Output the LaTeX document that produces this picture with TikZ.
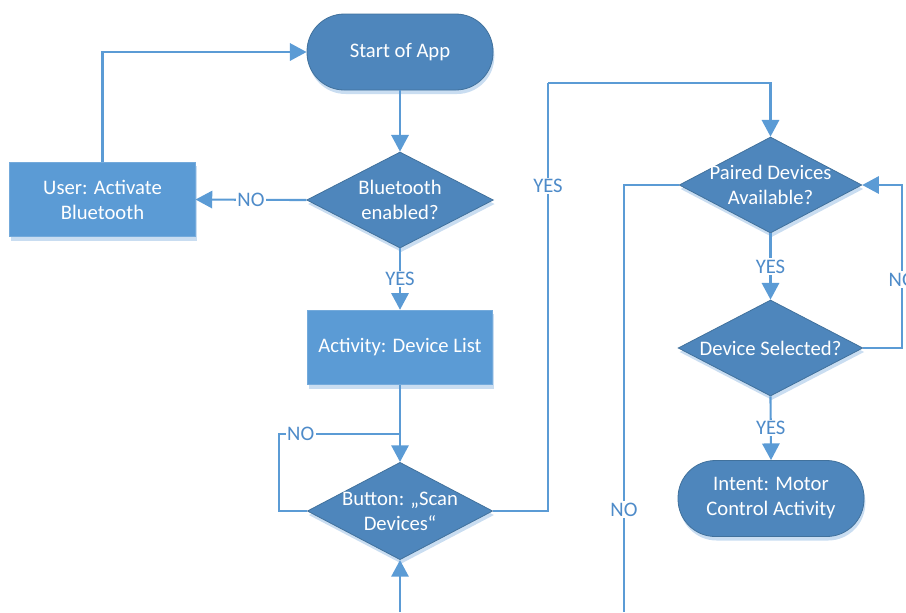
\documentclass[tikz,border=0pt]{standalone}
\usepackage{fontspec}
\setmainfont{Carlito}
\usetikzlibrary{shapes.geometric,shadows,arrows.meta}
\definecolor{lineblue}{HTML}{5B9BD5}
\definecolor{shapefill}{HTML}{4E86BC}
\definecolor{shapeedge}{HTML}{41719C}
\definecolor{boxfill}{HTML}{5B9BD5}
\definecolor{shadowblue}{HTML}{C9DDF1}
\definecolor{labelblue}{HTML}{4E8BC9}
\tikzset{
  shapetext/.style={text=white, font=\fontsize{15.5}{18.75}\selectfont, align=center, inner sep=0pt},
  base/.style={shapetext,
    drop shadow={fill=shadowblue, shadow xshift=1pt, shadow yshift=-3pt, opacity=1}},
  terminal/.style={base, rectangle, rounded corners=28pt, fill=shapefill, draw=shapeedge, line width=0.6pt,
    minimum width=139.5pt, minimum height=57pt},
  % the diamond keeps its size; its text is set on top and may reach past the edges
  decision/.style={base, diamond, aspect=2, fill=shapefill, draw=shapeedge, line width=0.6pt,
    minimum width=140pt, minimum height=72pt, label={[shapetext]center:#1}},
  process/.style={base, rectangle, fill=boxfill, draw=boxfill!85!white, line width=0.6pt,
    minimum width=139pt, minimum height=56pt},
  line/.style={draw=lineblue, line width=1.6pt},
  flow/.style={line, -{Triangle[length=12.5pt,width=13pt]}},
  lbl/.style={fill=white, text=labelblue, font=\fontsize{15.5}{18}\selectfont, inner sep=1pt}
}
\begin{document}
\begin{tikzpicture}[x=0.75pt,y=-0.75pt]
\useasboundingbox (0,0) rectangle (906,612);

% left column
\node[terminal] (start) at (400,52) {Start of App};
\node[decision={Bluetooth\\enabled?}] (bt) at (400,200) {};
\node[process] (user) at (102.5,199.5) {User: Activate\\Bluetooth};
\node[process] (list) at (400,347.5) {Activity: Device List};
\node[decision={Button: „Scan\\Devices“}, minimum width=139pt, minimum height=73pt] (scan) at (400,511) {};

% right column
\node[decision={Paired Devices\\Available?}, minimum width=137pt] (paired) at (770.5,185) {};
\node[decision={Device Selected?}, minimum width=138.5pt] (sel) at (770.5,348) {};
\node[terminal] (intent) at (771,498.5) {Intent: Motor\\Control Activity};

\coordinate (join) at (400,434);
\coordinate (inlow) at (400,612);
\coordinate (outlow) at (624,612);
\coordinate (top) at (548,83);

% connectors
\draw[flow] (start) -- (bt);
\draw[flow] (bt.west) -- node[lbl]{NO} (user.east);
\draw[flow] (user.north) |- (start.west);
\draw[flow] (bt.south) -- node[lbl]{YES} (list.north);
\draw[flow] (list.south) -- (scan.north);
\draw[line] (scan.west) -- ++(-28,0) |- node[lbl,pos=0.59]{NO} (join);
\draw[flow] (inlow) -- (scan.south);
\draw[line] (scan.east) -| node[lbl,pos=0.88]{YES} (top);
\draw[flow] (top) -| (paired.north);
\draw[line] (paired.west) -| node[lbl,pos=0.88]{NO} (outlow);
\draw[flow] (paired.south) -- node[lbl]{YES} (sel.north);
\draw[flow] (sel.east) -- ++(39,0) |- node[lbl,pos=0.21]{NO} (paired.east);
\draw[flow] (sel.south) -- node[lbl]{YES} (intent.north);
\end{tikzpicture}
\end{document}
